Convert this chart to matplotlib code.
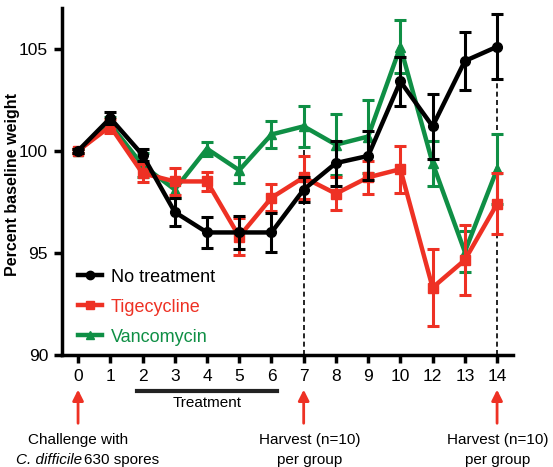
import numpy as np
import matplotlib
matplotlib.use("Agg")
import matplotlib.pyplot as plt
from matplotlib.lines import Line2D

plt.rcParams['font.family'] = ['Liberation Sans', 'DejaVu Sans']

# Tage nach Infektion (kategoriale Achse)
days = ['0', '1', '2', '3', '4', '5', '6', '7', '8', '9', '10', '12', '13', '14']

no_treat = [100.0, 101.6, 99.8, 97.0, 96.0, 96.0, 96.0, 98.1, 99.4, 99.75, 103.4, 101.2, 104.4, 105.1]
no_treat_err = [0.1, 0.3, 0.3, 0.7, 0.75, 0.8, 0.95, 0.6, 1.1, 1.2, 1.2, 1.6, 1.4, 1.6]

tige = [100.0, 101.2, 98.9, 98.5, 98.5, 95.8, 97.7, 98.7, 97.9, 98.7, 99.1, 93.3, 94.65, 97.4]
tige_err = [0.1, 0.35, 0.45, 0.65, 0.45, 0.9, 0.65, 1.05, 0.8, 0.8, 1.15, 1.9, 1.7, 1.5]

vanco = [100.0, 101.3, 99.3, 98.1, 100.1, 99.05, 100.8, 101.2, 100.3, 100.7, 105.1, 99.4, 95.05, 99.1]
vanco_err = [0.1, 0.35, 0.6, 0.4, 0.35, 0.65, 0.65, 1.0, 1.5, 1.8, 1.3, 1.1, 1.0, 1.7]

black = '#000000'
red = '#ee3124'
green = '#0f8f45'

x = np.arange(len(days))

fig = plt.figure(figsize=(5.53, 4.67), dpi=100)
ax = fig.add_axes([0.112, 0.240, 0.816, 0.743])

# gestrichelte Linien bei Tag 7 und 14
ax.plot([7, 7], [90, 101.0], ls=(0, (3, 2)), color='black', lw=1.2, zorder=1)
ax.plot([13, 13], [90, 105.0], ls=(0, (3, 2)), color='black', lw=1.2, zorder=1)

kw = dict(lw=3.2, elinewidth=2.2, capsize=4, capthick=2.2)
ax.errorbar(x, vanco, yerr=vanco_err, color=green, marker='^', ms=7, zorder=2, **kw)
ax.errorbar(x, tige, yerr=tige_err, color=red, marker='s', ms=7, zorder=3, **kw)
ax.errorbar(x, no_treat, yerr=no_treat_err, color=black, marker='o', ms=7, zorder=4, **kw)

ax.set_xlim(-0.5, 13.5)
ax.set_ylim(90, 107)
ax.set_yticks([90, 95, 100, 105])
ax.set_xticks(x)
ax.set_xticklabels(days)
ax.tick_params(labelsize=12.5, width=2.5, length=6, direction='out', pad=4)
ax.spines['top'].set_visible(False)
ax.spines['right'].set_visible(False)
ax.spines['left'].set_linewidth(2.5)
ax.spines['bottom'].set_linewidth(2.5)
ax.set_ylabel('Percent baseline weight', fontsize=11.5, fontweight='bold')
ax.yaxis.set_label_coords(-0.093, 0.49)

handles = [
    Line2D([], [], color=black, marker='o', lw=3.2, ms=6),
    Line2D([], [], color=red, marker='s', lw=3.2, ms=6),
    Line2D([], [], color=green, marker='^', lw=3.2, ms=6),
]
leg = ax.legend(handles, ['No treatment', 'Tigecycline', 'Vancomycin'],
                loc='lower left', bbox_to_anchor=(0.0, -0.02), frameon=False,
                fontsize=13, handlelength=1.3, handletextpad=0.5, labelspacing=0.72)
for t, c in zip(leg.get_texts(), [black, red, green]):
    t.set_color(c)

# Beschriftungen unter der Achse
tr = ax.get_xaxis_transform()
ax.plot([1.83, 6.16], [-0.104, -0.104], transform=tr, color='#222222', lw=3, clip_on=False)
ax.text(4.0, -0.14, 'Treatment', transform=tr, ha='center', va='center', fontsize=11)

for xp in [0, 7, 13]:
    ax.annotate('', xy=(xp, -0.092), xycoords=tr, xytext=(xp, -0.205), textcoords=tr,
                arrowprops=dict(arrowstyle='-|>', color=red, lw=2, mutation_scale=16))

ax.text(0, -0.245, 'Challenge with', transform=tr, ha='center', va='center', fontsize=11)
ax.text(0.13, -0.302, 'C. difficile', transform=tr, ha='right', va='center',
        fontsize=11, style='italic')
ax.text(0.2, -0.302, '630 spores', transform=tr, ha='left', va='center', fontsize=11)

for xp, dx in [(7, 0.18), (13, 0.03)]:
    ax.text(xp + dx, -0.245, 'Harvest (n=10)', transform=tr, ha='center', va='center', fontsize=11)
    ax.text(xp + dx, -0.302, 'per group', transform=tr, ha='center', va='center', fontsize=11)

fig.savefig('out.png', dpi=100)
